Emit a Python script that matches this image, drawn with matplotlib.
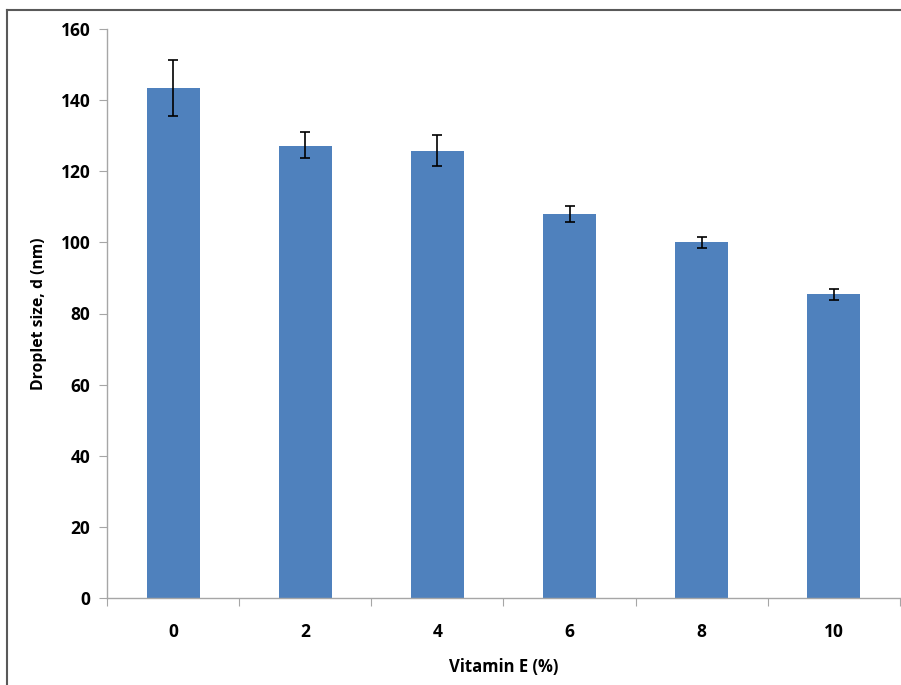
import matplotlib
matplotlib.use('Agg')
import matplotlib.pyplot as plt
from matplotlib.lines import Line2D
import numpy as np

categories = ['0', '2', '4', '6', '8', '10']
droplet_size = [143.5, 127.0, 125.8, 108.0, 100.0, 85.5]
err_low = [8.0, 3.4, 4.4, 2.3, 1.6, 1.6]
err_high = [7.8, 3.9, 4.5, 2.3, 1.5, 1.4]
y_ticks = [0, 20, 40, 60, 80, 100, 120, 140, 160]

plt.rcParams['font.family'] = ['Open Sans', 'DejaVu Sans']

W, H = 901, 685
fig = plt.figure(figsize=(W / 100, H / 100), dpi=100)
ax = fig.add_axes([107 / W, (H - 598) / H, (900 - 107) / W, (598 - 29) / H])

x = np.arange(len(categories))
ax.bar(x, droplet_size, width=0.4, color='#4F81BD', zorder=2)
ax.errorbar(x, droplet_size, yerr=[err_low, err_high], fmt='none',
            ecolor='black', elinewidth=1.2, capsize=3.5, capthick=1.2, zorder=3)

ax.set_xlim(-0.5, len(categories) - 0.5)
ax.set_ylim(0, 160)
ax.set_yticks(y_ticks)
ax.set_yticklabels([str(v) for v in y_ticks], fontsize=12.5, fontweight='bold')

ax.set_xticks(np.arange(-0.5, len(categories), 1.0))
ax.set_xticklabels([])
ax.set_xticks(x, minor=True)
ax.set_xticklabels(categories, minor=True, fontsize=12.5, fontweight='bold')
ax.tick_params(axis='x', which='major', length=6, color='#A6A6A6', direction='out')
ax.tick_params(axis='x', which='minor', length=0, pad=18)
ax.tick_params(axis='y', length=6, color='#A6A6A6', direction='out', pad=6)

for s in ['top', 'right']:
    ax.spines[s].set_visible(False)
for s in ['left', 'bottom']:
    ax.spines[s].set_color('#A6A6A6')
    ax.spines[s].set_linewidth(1.0)

ax.set_xlabel('Vitamin E (%)', fontsize=12, fontweight='bold', labelpad=12)
ax.set_ylabel('Droplet size, d (nm)', fontsize=11.3, fontweight='bold', labelpad=10)

# outer chart frame (left and top edges only visible)
fig.add_artist(Line2D([7 / W, 7 / W], [0, 1 - 10 / H], transform=fig.transFigure,
                      color='#595959', lw=1.5))
fig.add_artist(Line2D([7 / W, 1], [1 - 10 / H, 1 - 10 / H], transform=fig.transFigure,
                      color='#595959', lw=1.5))

fig.savefig('out.png', dpi=100)
